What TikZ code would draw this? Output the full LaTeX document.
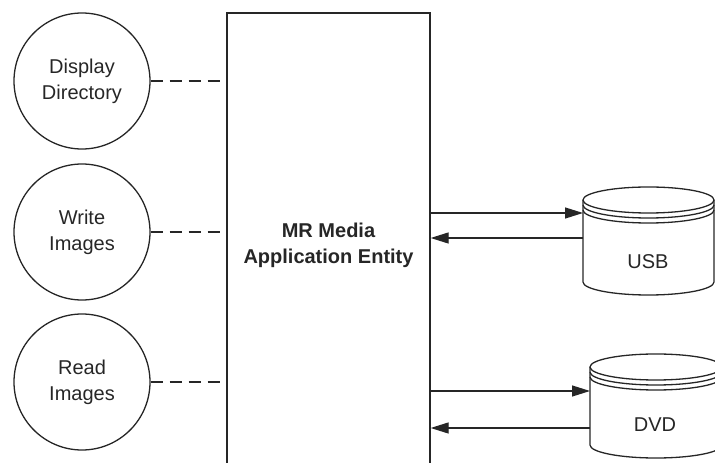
\documentclass[tikz,border=0pt]{standalone}
\usepackage{fontspec}
\setmainfont{Liberation Sans}
\usetikzlibrary{
    arrows.meta,
    calc,
    positioning
}

\begin{document}
\begin{tikzpicture}[x=1pt, y=1pt,
    every node/.style={font=\fontsize{20}{26}\selectfont, text=black!85},
    line/.style={draw=black!85, line width=1.3pt},
    usecase/.style={line, circle, minimum size=136pt, inner sep=0pt, align=center},
    entity/.style={line, rectangle, minimum width=203pt, minimum height=465pt, align=center, font=\fontsize{20}{26}\selectfont\bfseries},
    link/.style={line, dash pattern=on 12pt off 7pt},
    arr/.style={line, -{Triangle[length=18pt, width=11pt]}}
]
    \useasboundingbox (0,0) rectangle (715,463);

    % application entity, runs off the bottom
    \node[entity] (ae) at (328.5,217.5) {MR Media\\Application Entity};

    % use cases
    \node[usecase] (dd) at (82,382) {Display\\Directory};
    \node[usecase] (wi) at (82,231) {Write\\Images};
    \node[usecase] (ri) at (82,81) {Read\\Images};

    \foreach \uc in {dd, wi, ri}
        \draw[link] (\uc.east) -- (ae.west |- \uc.east);

    % media drums
    \foreach \nm/\l/\r/\t/\b/\txt/\ya/\yb in {usb/583/714/263/181/USB/250/225, dvd/590/722/96/18/DVD/72/35} {
        \pgfmathsetmacro\rx{(\r-\l)/2}
        \pgfmathsetmacro\cx{(\r+\l)/2}
        \draw[line] (\l,\t) -- (\l,\b) arc[start angle=180, end angle=360, x radius=\rx, y radius=13] -- (\r,\t);
        \draw[line] (\cx,\t) ellipse[x radius=\rx, y radius=13];
        \foreach \k in {5,10}
            \draw[line] (\l,\t-\k) arc[start angle=180, end angle=360, x radius=\rx, y radius=13];
        \node (\nm) at (\l+65,\b+20) {\txt};
        \coordinate (\nm-in) at (\l,\ya);
        \coordinate (\nm-out) at (\l,\yb);
    }

    \draw (ae.east |- usb-in) edge[arr] (usb-in);
    \draw (usb-out) edge[arr] (ae.east |- usb-out);
    \draw (ae.east |- dvd-in) edge[arr] (dvd-in);
    \draw (dvd-out) edge[arr] (ae.east |- dvd-out);
\end{tikzpicture}
\end{document}
